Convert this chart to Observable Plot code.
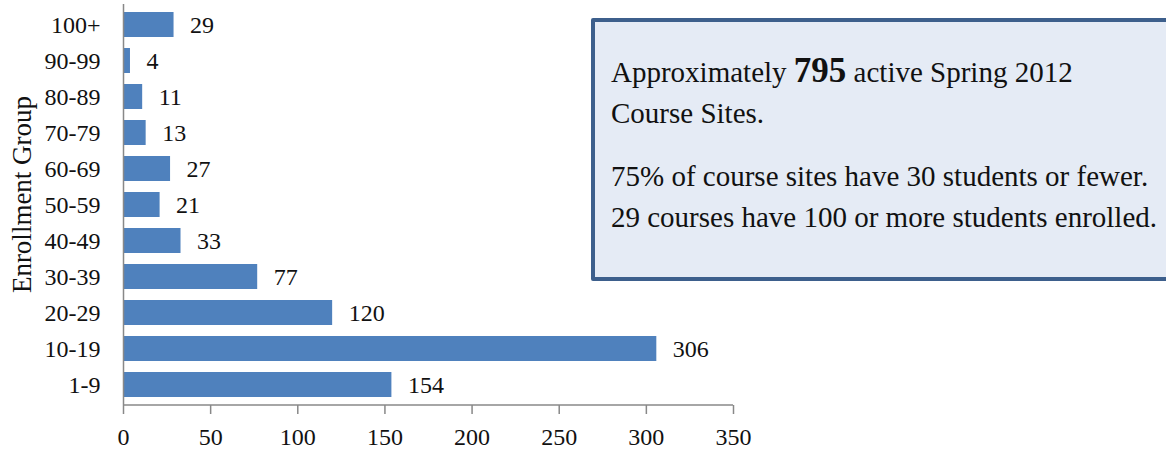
<!DOCTYPE html>
<html>
<head>
<meta charset="utf-8">
<script src="https://cdn.jsdelivr.net/npm/d3@7"></script>
<script src="https://cdn.jsdelivr.net/npm/@observablehq/plot@0.6"></script>
<style>
  html, body { margin: 0; padding: 0; background: #fff; }
  #wrap { position: relative; width: 1166px; height: 450px; overflow: hidden; font-family: "Liberation Serif", "DejaVu Serif", serif; }
  #box {
    position: absolute; left: 591px; top: 18px; width: 620px; height: 263px;
    box-sizing: border-box; border: 4.5px solid #3D5F8C; background: #E5EBF5;
    border-radius: 2px; padding: 30px 0 0 16px; color: #111; font-size: 29px; line-height: 41px;
    white-space: nowrap;
  }
  #box p { margin: 0; }
  #box .big { font-weight: bold; font-size: 35px; line-height: 0; }
</style>
</head>
<body>
<div id="wrap">
  <div id="chart"></div>
  <div id="box">
    <p>Approximately <span class="big">795</span> active Spring 2012</p>
    <p>Course Sites.</p>
    <p style="margin-top:22px">75% of course sites have 30 students or fewer.</p>
    <p>29 courses have 100 or more students enrolled.</p>
  </div>
</div>
<script>
const groups = ["1-9","10-19","20-29","30-39","40-49","50-59","60-69","70-79","80-89","90-99","100+"];
const counts = [154, 306, 120, 77, 33, 21, 27, 13, 11, 4, 29];
const xTicks = [0, 50, 100, 150, 200, 250, 300, 350];

const data = groups.map((g, i) => ({group: g, count: counts[i]}));

const chart = Plot.plot({
  width: 1166,
  height: 450,
  marginLeft: 123,
  marginRight: 433,
  marginTop: 4,
  marginBottom: 45,
  style: {fontFamily: "Liberation Serif, serif", fontSize: "24px", color: "#111", background: "transparent", overflow: "visible"},
  x: {domain: [0, 350], ticks: xTicks, label: null},
  y: {domain: groups.slice().reverse(), paddingInner: 0.3, paddingOuter: 0.15, label: "Enrollment Group"},
  marks: [
    Plot.barX(data, {y: "group", x: "count", fill: "#4F81BD"}),
    Plot.text(data, {y: "group", x: "count", text: d => String(d.count), dx: 16, textAnchor: "start", fontSize: 24, fill: "#111"}),
    Plot.axisX({ticks: xTicks, tickSize: 9, tickPadding: 13, stroke: "#888", strokeWidth: 1.5, fontSize: 24, fill: "#111"}),
    Plot.axisY({tickSize: 0, tickPadding: 23, fontSize: 24, fill: "#111", label: null}),
    Plot.ruleX([0], {stroke: "#888", strokeWidth: 1.5})
  ]
});
document.getElementById("chart").appendChild(chart);

const xs = chart.scale("x");
const ys = chart.scale("y");
const svg = d3.select(chart);
// x baseline
svg.append("line")
  .attr("x1", xs.apply(0)).attr("x2", xs.apply(350))
  .attr("y1", 405).attr("y2", 405)
  .attr("stroke", "#888").attr("stroke-width", 1.5);
// y axis title
const yMid = (ys.range[0] + ys.range[1]) / 2;
svg.append("text")
  .attr("transform", `translate(31,${yMid - 10}) rotate(-90)`)
  .attr("text-anchor", "middle")
  .attr("font-size", 27)
  .attr("fill", "#111")
  .text("Enrollment Group");
</script>
</body>
</html>
